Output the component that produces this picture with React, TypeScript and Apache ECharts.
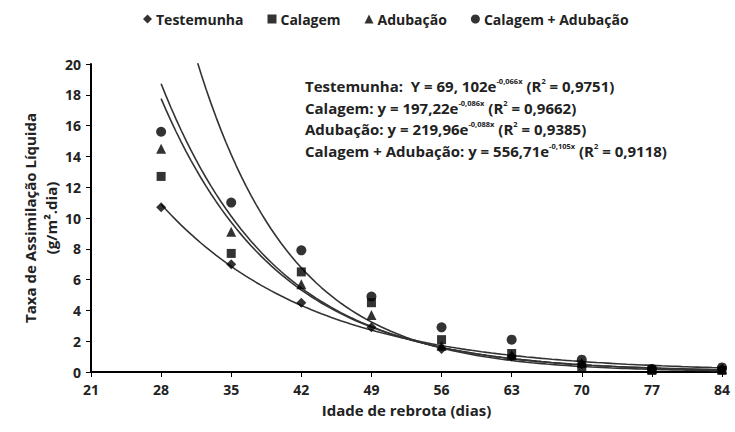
import React, { useEffect, useRef } from "react";
import * as echarts from "echarts";

const days = [28, 35, 42, 49, 56, 63, 70, 77, 84];
const testemunha = [10.7, 7.0, 4.5, 2.9, 1.5, 1.0, 0.5, 0.2, 0.2];
const calagem = [12.7, 7.7, 6.5, 4.5, 2.1, 1.2, 0.3, 0.1, 0.1];
const adubacao = [14.5, 9.1, 5.7, 3.7, 1.7, 1.1, 0.6, 0.2, 0.2];
const calagemAdubacao = [15.6, 11.0, 7.9, 4.9, 2.9, 2.1, 0.8, 0.2, 0.3];

const seriesNames = ["Testemunha", "Calagem", "Adubação", "Calagem + Adubação"];
const symbols = ["diamond", "rect", "triangle", "circle"];
const symbolSizes = [10, 9, 10, 10];
// fitted equations shown in the chart: y = a * e^(b x)
const coefA = [69.102, 197.22, 219.96, 556.71];
const coefB = [-0.066, -0.086, -0.088, -0.105];
const eqLabels = [
  "Testemunha:  Y = 69, 102e{sup|-0,066x} (R{sup|2} = 0,9751)",
  "Calagem: y = 197,22e{sup|-0,086x} (R{sup|2} = 0,9662)",
  "Adubação: y = 219,96e{sup|-0,088x} (R{sup|2} = 0,9385)",
  "Calagem + Adubação: y = 556,71e{sup|-0,105x} (R{sup|2} = 0,9118)",
];

const xTicks = { min: 21, max: 84, interval: 7 };
const yTicks = { min: 0, max: 20, interval: 2 };

const FONT = "'Open Sans', Lato, sans-serif";
const INK = "#222";

export default function App() {
  const ref = useRef<HTMLDivElement>(null);

  useEffect(() => {
    if (!ref.current) return;
    const chart = echarts.init(ref.current, null, { renderer: "svg" });
    const allData = [testemunha, calagem, adubacao, calagemAdubacao];

    const scatterSeries = allData.map((vals, i) => ({
      name: seriesNames[i],
      type: "scatter",
      symbol: symbols[i],
      symbolSize: symbolSizes[i],
      itemStyle: { color: "#000" },
      data: days.map((d, j) => [d, vals[j]]),
      z: 5,
    }));

    const curveSeries = coefA.map((a, i) => {
      const pts: number[][] = [];
      for (let x = days[0]; x <= days[days.length - 1] + 1e-9; x += 0.5) {
        pts.push([x, a * Math.exp(coefB[i] * x)]);
      }
      return {
        name: "curve" + i,
        type: "line",
        showSymbol: false,
        symbol: "none",
        smooth: false,
        clip: true,
        lineStyle: { color: "#333", width: 1.6 },
        data: pts,
        z: 3,
        silent: true,
      };
    });

    chart.setOption({
      animation: false,
      textStyle: { fontFamily: FONT },
      legend: {
        data: seriesNames.map((n, i) => ({ name: n, icon: symbols[i] })),
        top: 7,
        left: 138,
        itemWidth: 9,
        itemHeight: 9,
        itemGap: 24,
        textStyle: { fontFamily: FONT, fontSize: 14, fontWeight: "bold", color: INK, padding: [0, 0, 0, -1] },
      },
      grid: { left: 91, right: 13, top: 64, bottom: 60 },
      xAxis: {
        type: "value",
        min: xTicks.min,
        max: xTicks.max,
        interval: xTicks.interval,
        name: "Idade de rebrota (dias)",
        nameLocation: "middle",
        nameGap: 30,
        nameTextStyle: { fontFamily: FONT, fontSize: 15, fontWeight: "bold", color: INK },
        axisLine: { show: true, lineStyle: { color: "#000", width: 2 } },
        axisTick: { show: true, inside: false, length: 5, lineStyle: { color: "#000" } },
        axisLabel: { fontFamily: FONT, fontSize: 14, fontWeight: "bold", color: INK, margin: 10 },
        splitLine: { show: false },
      },
      yAxis: {
        type: "value",
        min: yTicks.min,
        max: yTicks.max,
        interval: yTicks.interval,
        name: "Taxa de Assimilação Líquida\n(g/m².dia)",
        nameLocation: "middle",
        nameGap: 30,
        nameMoveOverlap: false,
        nameRotate: 90,
        nameTextStyle: { fontFamily: FONT, fontSize: 15, fontWeight: "bold", color: INK, lineHeight: 21 },
        axisLine: { show: true, lineStyle: { color: "#000", width: 2 } },
        axisTick: { show: true, inside: false, length: 5, lineStyle: { color: "#000" } },
        axisLabel: { fontFamily: FONT, fontSize: 14, fontWeight: "bold", color: INK, margin: 10 },
        splitLine: { show: false },
      },
      graphic: eqLabels.map((t, i) => ({
        type: "text",
        left: 305,
        top: 77 + i * 21.5,
        style: {
          text: t,
          fontFamily: FONT,
          fontSize: 15,
          fontWeight: "bold",
          fill: INK,
          rich: {
            sup: { fontSize: 7.5, fontFamily: FONT, fontWeight: "bold", fill: INK, padding: [0, 0, 10, 0] },
          },
        },
        z: 10,
      })),
      series: [...curveSeries, ...scatterSeries],
    });

    return () => chart.dispose();
  }, []);

  return (
    <div
      ref={ref}
      style={{ position: "fixed", left: 0, top: 0, width: 735, height: 432, background: "#fff" }}
    />
  );
}
